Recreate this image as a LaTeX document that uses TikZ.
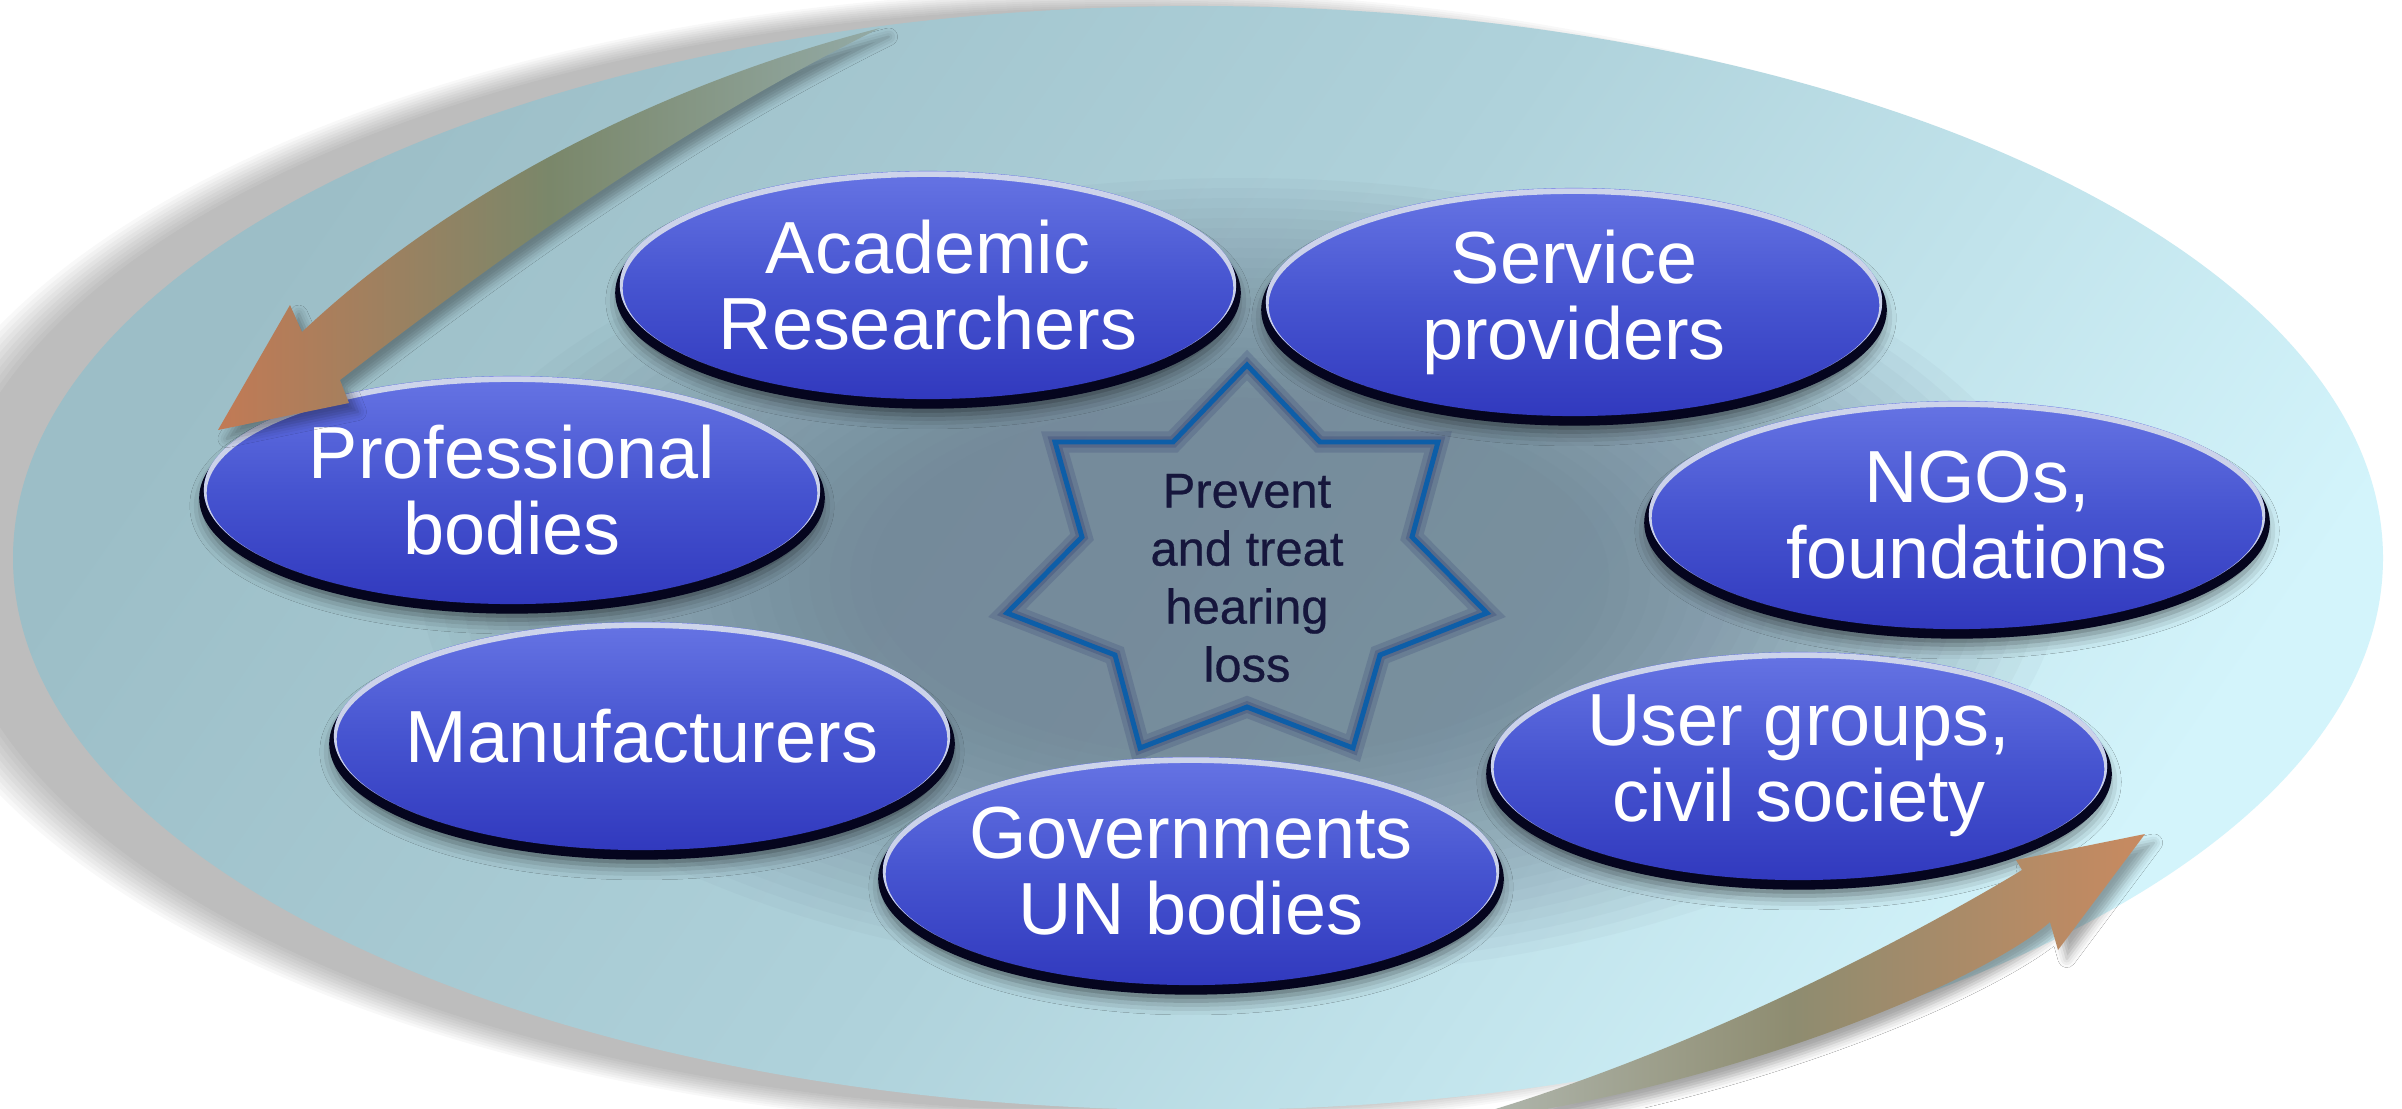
\documentclass[tikz,border=0pt]{standalone}
\usepackage{fontspec}
\setmainfont{Liberation Sans}
\newfontfamily\starfont[FakeBold=0.5]{Liberation Sans}
\usetikzlibrary{shapes.geometric,shadows,shadows.blur}

\definecolor{bgA}{HTML}{9CBEC7}
\definecolor{bgM}{HTML}{AFD2DB}
\definecolor{bgB}{HTML}{D3F4FB}
\definecolor{darkov}{HTML}{66788A}
\definecolor{blueT}{HTML}{6674E4}
\definecolor{blueM}{HTML}{4654D0}
\definecolor{blueB}{HTML}{3139BE}
\definecolor{rim}{HTML}{05051E}
\definecolor{hilite}{HTML}{D9DFEC}
\definecolor{starline}{HTML}{0D5EA8}
\definecolor{starglow}{HTML}{3A4878}
\definecolor{startext}{HTML}{16163C}
\definecolor{arrA}{HTML}{C27A55}
\definecolor{arrB}{HTML}{7A876A}
\definecolor{arrC}{HTML}{93AAA6}
\definecolor{arrD}{HTML}{C88A60}
\definecolor{arrE}{HTML}{8E8C70}
\definecolor{arrF}{HTML}{B4BCB6}

\begin{document}
\begin{tikzpicture}[x=0.01cm,y=-0.01cm,
  blob/.style={ellipse, minimum width=6.16cm, minimum height=2.28cm, inner xsep=-0.4cm, inner ysep=0pt,
    align=center, text=white, font=\fontsize{21}{21.6}\selectfont,
    top color=blueT, bottom color=blueB, middle color=blueM,
    blur shadow={shadow xshift=0pt, shadow yshift=-4.5pt, shadow blur radius=4pt, shadow opacity=55},
    general shadow={shadow xshift=0pt, shadow yshift=-2.2pt, shadow scale=1.015, fill=rim},
    path picture={\draw[hilite, line width=1.6pt, opacity=.9]
      ([yshift=-0.9pt]path picture bounding box.center) ellipse [x radius=3.08cm, y radius=1.14cm];}},
  arrowbody/.style={blur shadow={shadow xshift=2.5pt, shadow yshift=-2.5pt, shadow blur radius=2.5pt, shadow opacity=35}},
  goaltext/.style={font=\starfont\fontsize{13.9}{16.5}\selectfont, text=startext, align=center}
]
\useasboundingbox (0,0) rectangle (2402,1108);
\fill[white] (0,0) rectangle (2402,1108);

% soft shadow of the big ellipse (to the left)
\foreach \k in {0,...,9}{
  \fill[black, opacity=.028] (1120,560) ellipse [x radius=1175+6*\k, y radius=552+2*\k];
}
% big background ellipse
\path[left color=bgA, right color=bgB, middle color=bgM, shading angle=55]
  (1198,558) ellipse [x radius=1185, y radius=552];
% soft darker centre
\foreach \s in {1.00,0.975,...,0.43}{
  \fill[darkov, opacity=.052] (1240,578) ellipse [x radius=820*\s, y radius=400*\s];
}

% star
\foreach \w/\o/\c in {6pt/.25/starglow, 3.2pt/.35/starglow, 1.4pt/1/starline}{
  \draw[draw=\c, line width=\w, opacity=\o, line join=miter]
    (1247,365) -- (1320,442) -- (1438,442) -- (1412,537) -- (1487,613) -- (1380,655) --
    (1353,748) -- (1247,707) -- (1140,748) -- (1115,655) -- (1007,613) -- (1082,537) --
    (1055,442) -- (1173,442) -- cycle;
}
\node[goaltext] (goal) at (1247,578) {Prevent\\and treat\\hearing\\loss};

% stakeholder ellipses
\node[blob] (acad) at (928,285)  {Academic\\Researchers};
\node[blob] (serv) at (1574,302) {Service\\providers};
\node[blob] (prof) at (512,490)  {Professional\\bodies};
\node[blob] (ngo)  at (1957,515) {\hspace*{0.4cm}NGOs,\\\hspace*{0.4cm}foundations};
\node[blob] (manu) at (642,736)  {Manufacturers};
\node[blob] (user) at (1799,766) {User groups,\\civil society};
\node[blob] (gov)  at (1191,871) {Governments\\UN bodies};

% curved arrows
\path[arrowbody, left color=arrA, right color=arrC, middle color=arrB]
  (880,28) .. controls (620,95) and (420,220) .. (302,332) -- (290,305) -- (218,430)
  -- (349,403) -- (340,380) .. controls (490,265) and (670,132) .. (880,28) -- cycle;
\path[arrowbody, left color=arrF, right color=arrD, middle color=arrE]
  (1440,1125) .. controls (1700,1055) and (1950,914) .. (2022,870) -- (2016,860) -- (2145,834)
  -- (2058,950) -- (2050,922) .. controls (1985,980) and (1725,1092) .. (1440,1125) -- cycle;
\end{tikzpicture}
\end{document}
